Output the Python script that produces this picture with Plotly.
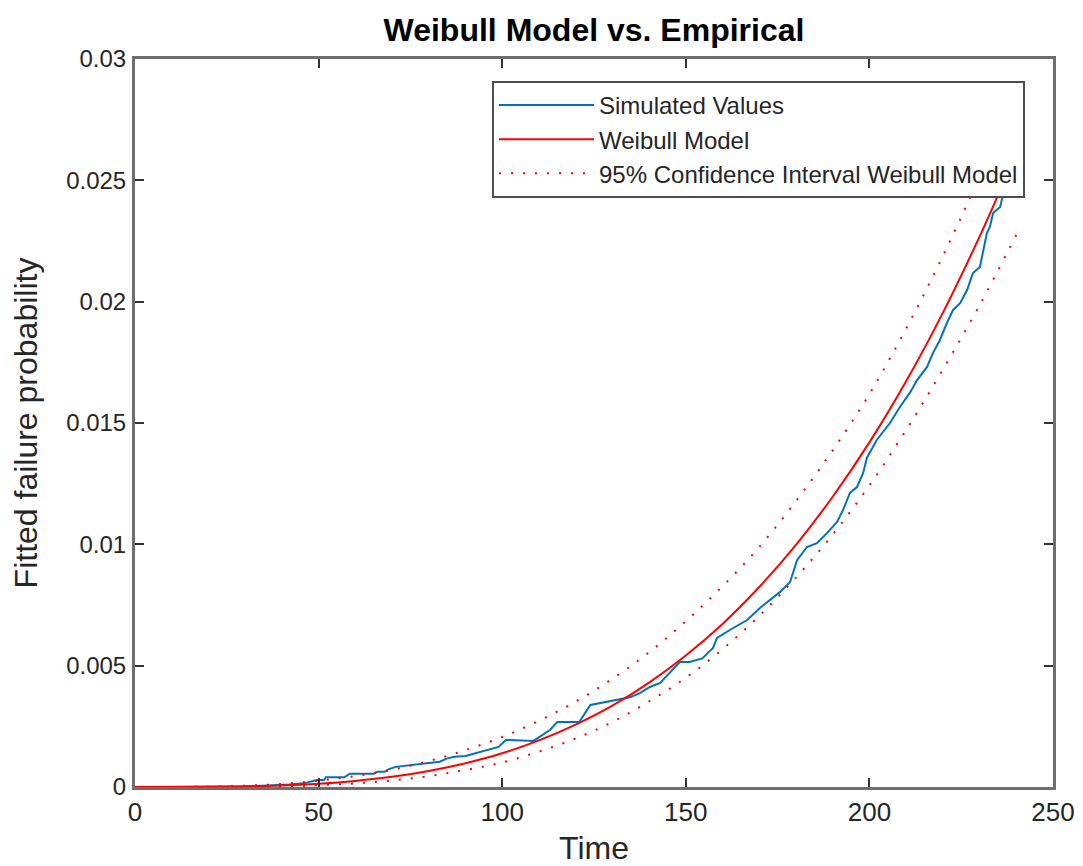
import plotly.graph_objects as go

# ---- data ----
sim_time = [0, 20, 28, 33, 38, 42, 46, 49.5, 51.5, 52, 57, 58.5, 65, 66, 68, 69, 71, 75, 78, 83,
            85, 87, 90, 93, 96, 99, 101, 102, 108.5, 110, 113, 115, 121, 124, 129.4, 134.8, 137.5,
            140.2, 143, 145.7, 148.4, 151, 154.5, 157.4, 158.5, 162, 166.7, 170.2, 172.9, 175.7,
            178.4, 180.3, 183, 185.7, 188.5, 191.2, 192.8, 194.7, 196.6, 198.3, 199.3, 202, 205.6,
            208.3, 211, 213, 215.7, 217.3, 219.2, 221.1, 222.8, 224.7, 226.6, 228.2, 230.1, 231,
            232, 232.8, 233.7, 235.6, 236.4, 237]
sim_prob = [0, 0, 0.00002, 0.00004, 0.00007, 0.0001, 0.00015, 0.00029, 0.00029, 0.0004, 0.0004,
            0.00055, 0.00055, 0.00063, 0.00063, 0.00073, 0.00083, 0.0009, 0.00098, 0.00104,
            0.00118, 0.00125, 0.00128, 0.0014, 0.0015, 0.00165, 0.00194, 0.00194, 0.0019, 0.00206,
            0.00235, 0.00268, 0.00268, 0.00338, 0.00355, 0.0037, 0.00387, 0.00412, 0.00429, 0.0047,
            0.00515, 0.00515, 0.0053, 0.00573, 0.00614, 0.00647, 0.00688, 0.00738, 0.00771, 0.00804,
            0.00845, 0.00935, 0.00989, 0.01005, 0.01047, 0.01092, 0.01141, 0.01212, 0.01236,
            0.01294, 0.01356, 0.0143, 0.015, 0.01566, 0.01624, 0.01677, 0.01731, 0.01788, 0.01842,
            0.01912, 0.01966, 0.01994, 0.02048, 0.02118, 0.02143, 0.02213, 0.02283, 0.02308,
            0.02365, 0.0239, 0.02448, 0.0248]

model_time = [0, 10, 20, 30, 40, 50, 60, 70, 80, 90, 100, 110, 120, 130, 140, 150, 160, 170,
              180, 190, 200, 210, 220, 230, 237]
model_prob = [0, 0.0000006, 0.0000063, 0.0000247, 0.000065, 0.000137, 0.000251, 0.00042, 0.00066,
              0.00098, 0.00139, 0.00192, 0.00257, 0.00335, 0.0043, 0.00542, 0.00672, 0.00824,
              0.00998, 0.01196, 0.0142, 0.01672, 0.01954, 0.02268, 0.02507]

ci_time = [0, 10, 20, 30, 40, 50, 60, 70, 80, 90, 100, 110, 120, 130, 140, 150, 160, 170, 180,
           190, 200, 210, 220, 230, 240]
ci_upper = [0, 0.000002, 0.000014, 0.000052, 0.00013, 0.00026, 0.00045, 0.00071, 0.00107, 0.00152,
            0.00206, 0.00273, 0.00352, 0.00446, 0.00555, 0.00683, 0.00827, 0.00989, 0.01178,
            0.01387, 0.01619, 0.01889, 0.02188, 0.02517, 0.02877]
ci_lower = [0, 0.0000002, 0.0000025, 0.000011, 0.000033, 0.000075, 0.00015, 0.00027, 0.00045,
            0.0007, 0.00101, 0.00146, 0.002, 0.00268, 0.00353, 0.0045, 0.00568, 0.00705, 0.00863,
            0.0104, 0.01243, 0.01471, 0.0172, 0.01985, 0.02275]

x_ticks = [0, 50, 100, 150, 200, 250]
y_ticks = [0, 0.005, 0.01, 0.015, 0.02, 0.025, 0.03]
y_tick_text = ["0", "0.005", "0.01", "0.015", "0.02", "0.025", "0.03"]

BLUE = "#0072BD"
RED = "#FF0000"
AXIS = "#6e6e6e"
TXT = "#262626"
FONT = "Liberation Sans, Arial, Helvetica, sans-serif"

fig = go.Figure()
fig.add_trace(go.Scatter(x=sim_time, y=sim_prob, mode="lines", name="Simulated Values",
                         line=dict(color=BLUE, width=2)))
fig.add_trace(go.Scatter(x=model_time, y=model_prob, mode="lines", name="Weibull Model",
                         line=dict(color=RED, width=2, shape="spline")))
fig.add_trace(go.Scatter(x=ci_time, y=ci_upper, mode="lines",
                         name="95% Confidence Interval Weibull Model",
                         line=dict(color=RED, width=2, dash="2px,10px", shape="spline")))
fig.add_trace(go.Scatter(x=ci_time, y=ci_lower, mode="lines", showlegend=False,
                         line=dict(color=RED, width=2, dash="2px,10px", shape="spline")))

# the page body adds an 8px offset; sizes/margins compensate for it
fig.update_layout(
    width=1075, height=858,
    margin=dict(l=127, r=30, t=51, b=79, autoexpand=False),
    paper_bgcolor="white", plot_bgcolor="white",
    font=dict(family=FONT, color=TXT, size=24),
    title=dict(text="<b>Weibull Model vs. Empirical</b>", x=0.5451, xanchor="center",
               y=0.975, yanchor="middle", font=dict(size=32, color="#000000")),
    showlegend=True,
    legend=dict(x=0.9695, xanchor="right", y=0.97, yanchor="top",
                bgcolor="white", bordercolor="#4d4d4d", borderwidth=2,
                font=dict(size=24, color=TXT), itemwidth=95, tracegroupgap=0),
)
fig.update_xaxes(range=[0, 250], tickvals=x_ticks, ticks="inside", ticklen=9, tickwidth=2,
                 tickcolor="#333333", showline=True, linewidth=3, linecolor=AXIS, mirror="ticks",
                 showgrid=False, zeroline=False, tickfont=dict(size=26),
                 title=dict(text="Time", font=dict(size=32), standoff=15))
fig.update_yaxes(range=[0, 0.03], tickvals=y_ticks, ticktext=y_tick_text, ticks="inside",
                 ticklen=9, tickwidth=2, tickcolor="#333333", showline=True, linewidth=3,
                 linecolor=AXIS, mirror="ticks", showgrid=False, zeroline=False,
                 tickfont=dict(size=24), ticklabelstandoff=1,
                 title=dict(text="Fitted failure probability", font=dict(size=32), standoff=19))

fig.write_html("out.html")
